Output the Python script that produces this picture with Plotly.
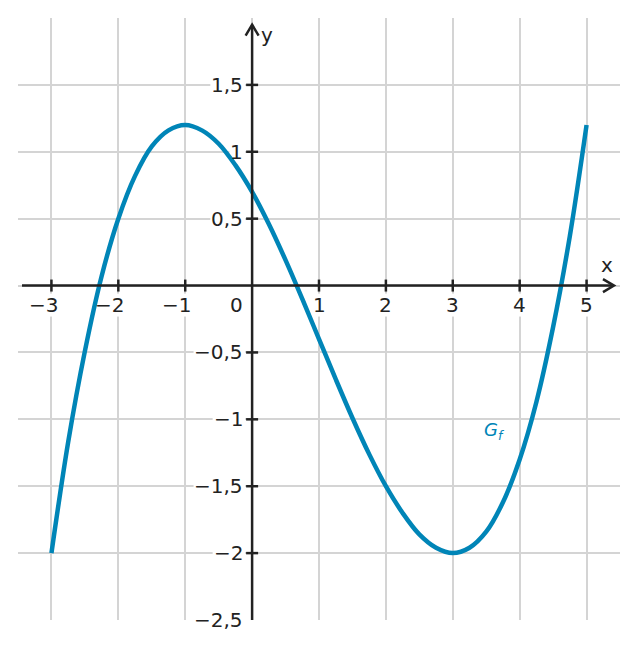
import plotly.graph_objects as go

x_vals = [-3.0, -2.75, -2.5, -2.25, -2.0, -1.75, -1.5, -1.25, -1.0, -0.75, -0.5, -0.25,
          0.0, 0.25, 0.5, 0.75, 1.0, 1.25, 1.5, 1.75, 2.0, 2.25, 2.5, 2.75,
          3.0, 3.25, 3.5, 3.75, 4.0, 4.25, 4.5, 4.75, 5.0]
y_vals = [-2.0, -1.17, -0.49, 0.07, 0.5, 0.82, 1.04, 1.16, 1.2, 1.16, 1.06, 0.9,
          0.7, 0.46, 0.19, -0.1, -0.4, -0.7, -0.99, -1.26, -1.5, -1.7, -1.86, -1.96,
          -2.0, -1.96, -1.84, -1.62, -1.3, -0.87, -0.31, 0.37, 1.2]

x_grid = [-3, -2, -1, 0, 1, 2, 3, 4, 5]
y_grid = [-2.5, -2, -1.5, -1, -0.5, 0, 0.5, 1, 1.5]
x_ticks = [-3, -2, -1, 1, 2, 3, 4, 5]
x_tick_labels = ["−3", "−2", "−1", "1", "2", "3", "4", "5"]
y_ticks = [-2.5, -2, -1.5, -1, -0.5, 0.5, 1, 1.5]
y_tick_labels = ["−2,5", "−2", "−1,5", "−1", "−0,5", "0,5", "1", "1,5"]

AXIS = "#222222"
GRID = "#d4d4d4"
CURVE = "#0085b7"
FONT = "DejaVu Sans"
FS = 20
MINUS_W = 0.838 * FS


def text_width(s, size=FS):
    w = 0.0
    for ch in s:
        if ch == "−":
            w += 0.838
        elif ch == ",":
            w += 0.318
        else:
            w += 0.636
    return w * size


fig = go.Figure()
fig.add_trace(go.Scatter(x=x_vals, y=y_vals, mode="lines",
                         line=dict(color=CURVE, width=4.5, shape="spline"),
                         hoverinfo="skip", showlegend=False))

shapes = []
annotations = []

# white masks behind tick labels (hide grid lines, stay under the curve)
for xv, lab in zip(x_ticks, x_tick_labels):
    w = text_width(lab)
    shift = -MINUS_W / 2 if lab.startswith("−") else 0
    shapes.append(dict(type="rect", layer="between", xref="x", yref="y",
                       xsizemode="pixel", xanchor=xv, x0=shift - w / 2 - 1, x1=shift + w / 2 + 1,
                       ysizemode="pixel", yanchor=0, y0=-31, y1=-8,
                       fillcolor="white", line=dict(width=0)))
for yv, lab in zip(y_ticks, y_tick_labels):
    w = text_width(lab) + 2
    shapes.append(dict(type="rect", layer="between", xref="x", yref="y",
                       xsizemode="pixel", xanchor=0, x0=-8 - w, x1=-7,
                       ysizemode="pixel", yanchor=yv, y0=-11, y1=11,
                       fillcolor="white", line=dict(width=0)))
shapes.append(dict(type="rect", layer="between", xref="x", yref="y",
                   xsizemode="pixel", xanchor=0, x0=-24, x1=-8,
                   ysizemode="pixel", yanchor=0, y0=-31, y1=-8,
                   fillcolor="white", line=dict(width=0)))

# axis lines
shapes.append(dict(type="line", xref="x", yref="y", x0=-3.44, x1=5.41, y0=0, y1=0,
                   line=dict(color=AXIS, width=2.5)))
shapes.append(dict(type="line", xref="x", yref="y", x0=0, x1=0, y0=-2.5, y1=1.95,
                   line=dict(color=AXIS, width=2.5)))
# arrow heads
shapes.append(dict(type="path", xref="x", yref="y",
                   xsizemode="pixel", xanchor=5.41, ysizemode="pixel", yanchor=0,
                   path="M-11,-6.5 L0,0 L-11,6.5", line=dict(color=AXIS, width=2.5)))
shapes.append(dict(type="path", xref="x", yref="y",
                   xsizemode="pixel", xanchor=0, ysizemode="pixel", yanchor=1.95,
                   path="M-6.5,-11 L0,0 L6.5,-11", line=dict(color=AXIS, width=2.5)))

# tick marks
for xv in x_ticks:
    shapes.append(dict(type="line", xref="x", yref="y", x0=xv, x1=xv,
                       ysizemode="pixel", yanchor=0, y0=-6, y1=6,
                       line=dict(color=AXIS, width=2.5)))
for yv in y_ticks:
    if yv == -2.5:
        continue
    shapes.append(dict(type="line", xref="x", yref="y", y0=yv, y1=yv,
                       xsizemode="pixel", xanchor=0, x0=-6, x1=6,
                       line=dict(color=AXIS, width=2.5)))

# tick labels (digit centred on the tick, minus sign hanging left)
for xv, lab in zip(x_ticks, x_tick_labels):
    shift = -MINUS_W / 2 if lab.startswith("−") else 0
    annotations.append(dict(x=xv, y=0, xref="x", yref="y", text=lab, showarrow=False,
                            xshift=shift, yshift=-19,
                            font=dict(family=FONT, size=FS, color=AXIS)))
for yv, lab in zip(y_ticks, y_tick_labels):
    annotations.append(dict(x=0, y=yv, xref="x", yref="y", text=lab, showarrow=False,
                            xanchor="right", xshift=-7,
                            font=dict(family=FONT, size=FS, color=AXIS)))
annotations.append(dict(x=0, y=0, xref="x", yref="y", text="0", showarrow=False,
                        xshift=-16, yshift=-19, font=dict(family=FONT, size=FS, color=AXIS)))

# axis names and curve label
annotations.append(dict(x=5.30, y=0.157, xref="x", yref="y", text="x", showarrow=False,
                        font=dict(family=FONT, size=FS, color=AXIS)))
annotations.append(dict(x=0.22, y=1.87, xref="x", yref="y", text="y", showarrow=False,
                        font=dict(family=FONT, size=FS, color=AXIS)))
annotations.append(dict(x=3.63, y=-1.09, xref="x", yref="y", text="<i>G</i><sub><i>f</i></sub>",
                        showarrow=False, font=dict(family=FONT, size=18, color=CURVE)))

fig.update_layout(
    width=638, height=648,
    margin=dict(l=18, r=18, t=18, b=28),
    paper_bgcolor="white", plot_bgcolor="white",
    xaxis=dict(range=[-3.5, 5.5], tickvals=x_grid, showticklabels=False,
               showgrid=True, gridcolor=GRID, gridwidth=2, zeroline=False,
               showline=False, ticks="", fixedrange=True),
    yaxis=dict(range=[-2.5, 2.0], tickvals=y_grid, showticklabels=False,
               showgrid=True, gridcolor=GRID, gridwidth=2, zeroline=False,
               showline=False, ticks="", fixedrange=True),
    shapes=shapes, annotations=annotations,
)

fig.write_html("out.html", config={"displayModeBar": False},
               post_script="document.body.style.margin='0';")
